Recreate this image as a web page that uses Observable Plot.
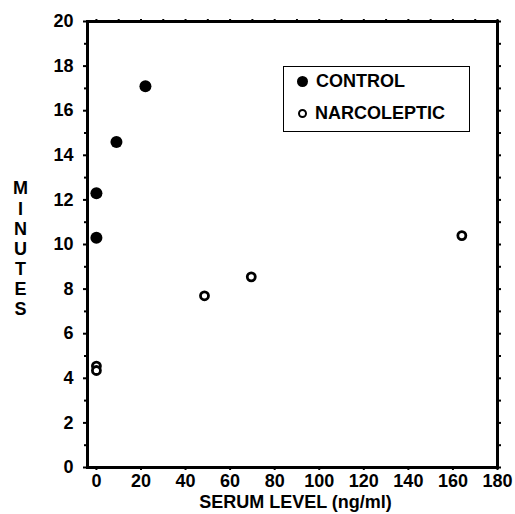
<!DOCTYPE html>
<html>
<head>
<meta charset="utf-8">
<script src="https://cdn.jsdelivr.net/npm/d3@7"></script>
<script src="https://cdn.jsdelivr.net/npm/@observablehq/plot@0.6"></script>
<style>
  html, body { margin: 0; padding: 0; background: #fff; }
  #wrap { position: relative; width: 515px; height: 514px; font-family: "Liberation Sans", Arial, sans-serif; font-weight: bold; }
  #wrap svg g[aria-label$="tick label"] text { font-size: 18px; font-weight: bold; }
  #legend { position: absolute; left: 283px; top: 66px; width: 185px; height: 64px; border: 1.5px solid #000; background: #fff; font-size: 18px; }
  .row { position: absolute; left: 13px; display: flex; align-items: center; white-space: nowrap; }
  .sym { display: inline-block; box-sizing: border-box; border-radius: 50%; margin-right: 8px; }
  .filled { width: 11px; height: 11px; background: #000; }
  .open { width: 9px; height: 9px; border: 2.5px solid #000; background: #fff; margin-left: 1px; }
</style>
</head>
<body>
<div id="wrap"></div>
<script>
const controlX = [0, 0, 9, 22];
const controlY = [12.3, 10.3, 14.6, 17.1];
const narcX = [0, 0, 48.5, 69.5, 164];
const narcY = [4.55, 4.35, 7.7, 8.55, 10.4];
const xTicks = [0, 20, 40, 60, 80, 100, 120, 140, 160, 180];
const yTicks = [0, 2, 4, 6, 8, 10, 12, 14, 16, 18, 20];
const seriesNames = ["CONTROL", "NARCOLEPTIC"];

const control = controlX.map((x, i) => ({x, y: controlY[i]}));
const narc = narcX.map((x, i) => ({x, y: narcY[i]}));

const chart = Plot.plot({
  width: 515,
  height: 514,
  marginLeft: 87,
  marginRight: 18,
  marginTop: 21,
  marginBottom: 47,
  style: {fontFamily: "'Liberation Sans', Arial, sans-serif", fontWeight: "bold", fontSize: "18px", color: "#000", background: "#fff"},
  x: {domain: [-4, 180]},
  y: {domain: [0, 20]},
  marks: [
    Plot.axisY({ticks: yTicks, tickSize: 4, tickPadding: 10, strokeWidth: 2, label: null}),
    Plot.axisY({ticks: d3.range(1, 20, 2), tickSize: 3, tickFormat: () => "", strokeWidth: 2, label: null}),
    Plot.axisY({anchor: "right", ticks: d3.range(0, 21, 1), tickSize: 3, tickFormat: () => "", strokeWidth: 2, label: null}),
    Plot.axisX({ticks: xTicks, tickSize: 3, tickPadding: 4, strokeWidth: 2, label: null}),
    Plot.axisX({anchor: "top", ticks: d3.range(0, 181, 10), tickSize: 3, tickFormat: () => "", strokeWidth: 2, label: null}),
    Plot.frame({stroke: "#000", strokeWidth: 3}),
    Plot.dot(control, {x: "x", y: "y", r: 6, fill: "#000"}),
    Plot.dot(narc, {x: "x", y: "y", r: 4, stroke: "#000", strokeWidth: 2.8, fill: "#fff"}),
    Plot.text(["SERUM LEVEL (ng/ml)"], {frameAnchor: "bottom", text: d => d, dy: 40, dx: 3, fontSize: 18, fontWeight: "bold"}),
    Plot.text(["M\nI\nN\nU\nT\nE\nS"], {frameAnchor: "left", text: d => d, dx: -67, dy: 4, lineHeight: 1.12, fontSize: 18, fontWeight: "bold", textAnchor: "middle"})
  ]
});

const wrap = document.getElementById("wrap");
wrap.appendChild(chart);
const legend = document.createElement("div");
legend.id = "legend";
legend.innerHTML = `
  <div class="row" style="top:4px"><span class="sym filled"></span>${seriesNames[0]}</div>
  <div class="row" style="top:36px"><span class="sym open"></span>${seriesNames[1]}</div>`;
wrap.appendChild(legend);
</script>
</body>
</html>
